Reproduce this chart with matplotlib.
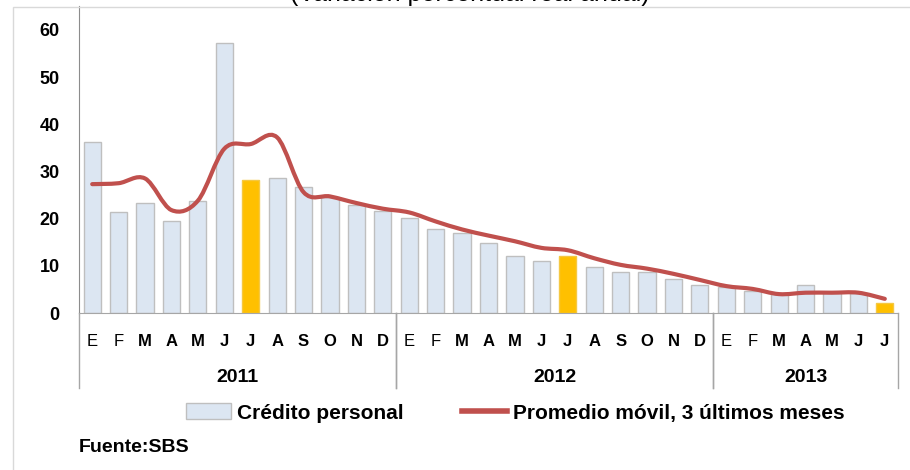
import matplotlib
matplotlib.use("Agg")
import matplotlib.pyplot as plt
from matplotlib.path import Path
from matplotlib.patches import PathPatch, Rectangle, Patch
from matplotlib.lines import Line2D
import matplotlib.transforms as mtransforms
import numpy as np

plt.rcParams["font.family"] = ["Liberation Sans", "DejaVu Sans"]

# datos: variación % real anual del crédito personal
months = ["E", "F", "M", "A", "M", "J", "J", "A", "S", "O", "N", "D",
          "E", "F", "M", "A", "M", "J", "J", "A", "S", "O", "N", "D",
          "E", "F", "M", "A", "M", "J", "J"]
years = ["2011", "2012", "2013"]
year_sizes = [12, 12, 7]
credito = [36.3, 21.3, 23.2, 19.4, 23.7, 57.2, 28.2, 28.7, 26.8, 24.6, 22.9, 21.6,
           20.2, 17.9, 16.9, 14.9, 12.1, 11.0, 12.1, 9.8, 8.7, 8.7, 7.1, 5.9,
           5.6, 4.6, 4.0, 5.9, 4.5, 4.3, 2.2]
promedio = [27.3, 27.5, 28.5, 21.8, 23.8, 34.8, 35.8, 37.2, 25.6, 24.7, 23.3, 22.1,
            21.3, 19.4, 17.7, 16.4, 15.2, 13.8, 13.3, 11.6, 10.2, 9.4, 8.3, 7.0,
            5.7, 5.1, 4.0, 4.3, 4.3, 4.3, 3.0]
destacados = [6, 18, 30]  # meses de julio

W, H = 910, 470
fig = plt.figure(figsize=(W / 100, H / 100), dpi=100)

x0, x1 = 79, 898
y_zero, y_top = 313, 6.2
ax = fig.add_axes([x0 / W, (H - y_zero) / H, (x1 - x0) / W, (y_zero - y_top) / H])

x = np.arange(len(credito))
colors = ["#ffc000" if i in destacados else "#dce6f2" for i in x]
edges = ["#f5c842" if i in destacados else "#bfbfbf" for i in x]
ax.bar(x, credito, width=0.65, color=colors, edgecolor=edges, linewidth=1.0, zorder=2)

# línea suavizada (estilo Excel) a partir de los puntos
pts = np.column_stack([x, promedio]).astype(float)
verts = [tuple(pts[0])]
codes = [Path.MOVETO]
n = len(pts)
for i in range(n - 1):
    p_prev = pts[i - 1] if i > 0 else pts[i]
    p_next2 = pts[i + 2] if i + 2 < n else pts[i + 1]
    c1 = pts[i] + (pts[i + 1] - p_prev) / 6.0
    c2 = pts[i + 1] - (p_next2 - pts[i]) / 6.0
    verts += [tuple(c1), tuple(c2), tuple(pts[i + 1])]
    codes += [Path.CURVE4] * 3
ax.add_patch(PathPatch(Path(verts, codes), facecolor="none", edgecolor="#c0504d",
                       linewidth=3.0, capstyle="round", joinstyle="round", zorder=3))

ax.set_xlim(-0.5, len(credito) - 0.5)
ax.set_ylim(0, 65)
ax.set_yticks([0, 10, 20, 30, 40, 50, 60])
ax.tick_params(axis="y", length=0, pad=14, labelsize=13)
for lab in ax.get_yticklabels():
    lab.set_fontweight("bold")

ax.set_xticks(x)
ax.set_xticklabels(months, fontsize=12)
ax.tick_params(axis="x", length=0, pad=15)
for i, lab in enumerate(ax.get_xticklabels()):
    lab.set_fontweight("normal" if months[i] in ("E", "F") else "bold")

for s in ["top", "right"]:
    ax.spines[s].set_visible(False)
ax.spines["left"].set_color("#8c8c8c")
ax.spines["bottom"].set_color("#a6a6a6")

# separadores de años y etiquetas
trans = mtransforms.blended_transform_factory(ax.transData, ax.transAxes)
y_low = -(388 - y_zero) / (y_zero - y_top)
start = -0.5
for yr, size in zip(years, year_sizes):
    end = start + size
    for xb in (start, end):
        ax.add_line(Line2D([xb, xb], [y_low, 0], transform=trans, color="#a6a6a6",
                           linewidth=1.0, clip_on=False))
    ax.text((start + end) / 2, -(377 - y_zero) / (y_zero - y_top), yr, transform=trans,
            ha="center", va="center", fontsize=14, fontweight="bold")
    start = end

# borde del gráfico
fig.add_artist(Rectangle((13 / W, -0.1), 1.2, 1 - 7 / H + 0.1, transform=fig.transFigure,
                         facecolor="none", edgecolor="#d9d9d9", linewidth=1.0))

# título (cortado en la parte superior, como en el original)
fig.text(470 / W, 1 - 1 / H, "(Variación porcentual real anual)", ha="center",
         va="baseline", fontsize=18)

handles = [Patch(facecolor="#dce6f2", edgecolor="#bfbfbf", label="Crédito personal"),
           Line2D([0], [0], color="#c0504d", linewidth=4, label="Promedio móvil, 3 últimos meses")]
leg = fig.legend(handles=handles, loc="center", bbox_to_anchor=(515 / W, (H - 413) / H),
                 ncol=2, frameon=False, handlelength=2.2, handleheight=0.8,
                 handletextpad=0.25, columnspacing=2.8,
                 prop={"family": ["Liberation Sans Narrow", "Liberation Sans"],
                       "weight": "bold", "size": 15})

fig.text(79 / W, (H - 447) / H, "Fuente:SBS", ha="left", va="center", fontsize=14,
         fontweight="bold", family=["Liberation Sans Narrow", "Liberation Sans"])

fig.savefig("out.png", dpi=100)
